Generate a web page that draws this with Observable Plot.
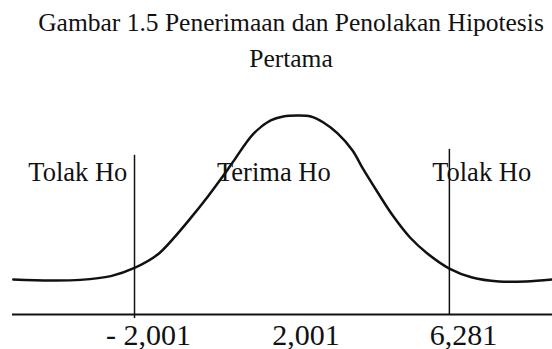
<!DOCTYPE html>
<html>
<head>
<meta charset="utf-8">
<script src="https://cdn.jsdelivr.net/npm/d3@7"></script>
<script src="https://cdn.jsdelivr.net/npm/@observablehq/plot@0.6"></script>
<style>
  html, body { margin: 0; padding: 0; background: #fff; }
  #title {
    box-sizing: border-box;
    width: 522px; margin-left: 30px; height: 80px; padding-top: 5.4px;
    font-family: "Liberation Serif", serif; font-size: 25.5px; line-height: 36px;
    text-align: center; color: #111; white-space: nowrap;
  }
  #chart svg { display: block; }
</style>
</head>
<body>
<div id="title">Gambar 1.5 Penerimaan dan Penolakan Hipotesis<br>Pertama</div>
<div id="chart"></div>
<script>
// Curve (abstract units: x in z-like units, y relative to peak)
const curveX = [-3.54, -3.07, -2.69, -2.30, -2.00, -1.71, -1.50, -1.29, -1.07, -0.88, -0.74, -0.49, -0.27, -0.11, 0.07, 0.24, 0.40, 0.58, 0.77, 0.90, 1.09, 1.29, 1.50, 1.72, 2.00, 2.29, 2.63, 2.97, 3.31];
const curveY = [0.176, 0.171, 0.174, 0.193, 0.234, 0.300, 0.385, 0.483, 0.592, 0.693, 0.772, 0.908, 0.975, 0.995, 1.0, 0.995, 0.965, 0.910, 0.824, 0.734, 0.613, 0.492, 0.387, 0.307, 0.231, 0.186, 0.166, 0.166, 0.176];

// Critical lines
const criticalX = [-2, 2];
const criticalTop = [0.80, 0.83];
const criticalBottom = [-0.02, 0];

// Axis ticks
const tickPos = [-2, 0, 2];
const tickLabels = ["- 2,001", "2,001", "6,281"];

// Region labels
const regionX = [-2.72, -0.23, 2.41];
const regionLabels = ["Tolak Ho", "Terima Ho", "Tolak Ho"];
const regionY = 0.673;

const curve = curveX.map((x, i) => ({x, y: curveY[i]}));
const rules = criticalX.map((x, i) => ({x, y1: criticalBottom[i], y2: criticalTop[i]}));
const regions = regionX.map((x, i) => ({x, y: regionY, label: regionLabels[i]}));

const plot = Plot.plot({
  width: 552,
  height: 269,
  marginLeft: 12,
  marginRight: 0,
  marginTop: 35,
  marginBottom: 35,
  style: {fontFamily: "Liberation Serif, serif", color: "#111", background: "#fff"},
  x: {domain: [-3.55, 3.31], axis: null},
  y: {domain: [0, 1], axis: null},
  marks: [
    Plot.ruleY([0], {stroke: "#111", strokeWidth: 2}),
    Plot.ruleX(rules, {x: "x", y1: "y1", y2: "y2", stroke: "#111", strokeWidth: 1.5}),
    Plot.line(curve, {x: "x", y: "y", curve: "catmull-rom", stroke: "#111", strokeWidth: 2.5}),
    Plot.text(regions, {x: "x", y: "y", text: "label", lineAnchor: "bottom", textAnchor: "middle", fontSize: 26.5, fill: "#111"}),
    Plot.axisX({ticks: tickPos, tickFormat: (d) => tickLabels[tickPos.indexOf(d)], tickSize: 0, tickPadding: 9, fontSize: 30, dx: 14, label: null, fill: "#111"})
  ]
});
document.getElementById("chart").appendChild(plot);
</script>
</body>
</html>
